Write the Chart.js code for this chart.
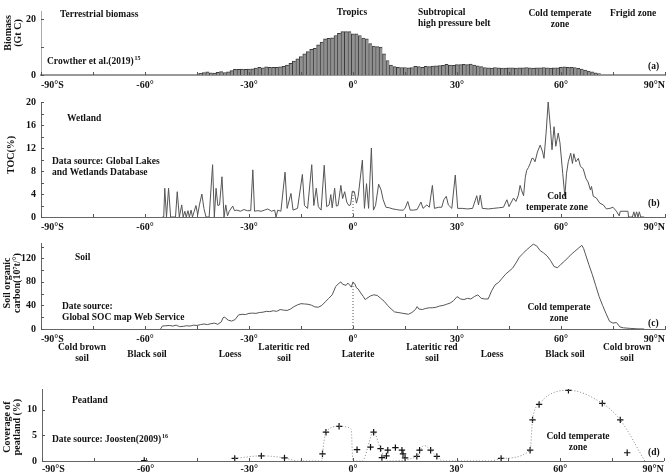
<!DOCTYPE html>
<html><head><meta charset="utf-8">
<script src="https://cdn.jsdelivr.net/npm/chart.js@4.4.1/dist/chart.umd.min.js"></script>
<style>
html,body{margin:0;padding:0;background:#fff;}
body{width:669px;height:472px;overflow:hidden;position:relative;}
canvas{position:absolute;left:0;}
</style></head>
<body>
<canvas id="ca" width="669" height="95" style="top:0px"></canvas>
<canvas id="cb" width="669" height="147" style="top:90px"></canvas>
<canvas id="cc" width="669" height="137" style="top:232px"></canvas>
<canvas id="cd" width="669" height="112" style="top:369px"></canvas>
<script>
// ---------- tick labels ----------
const LAT_TICKS = [-90,-75,-60,-45,-30,-15,0,15,30,45,60,75,90];
const LAT_LABELS = {'-90':'-90°S','-60':'-60°','-30':'-30°','0':'0°','30':'30°','60':'60°','90':'90°N'};

// ---------- (a) terrestrial biomass ----------
const biomassLat = [-44,-43,-42,-41,-40,-39,-38,-37,-36,-35,-34,-33,-32,-31,-30,-29,-28,-27,-26,-25,
-24,-23,-22,-21,-20,-19,-18,-17,-16,-15,-14,-13,-12,-11,-10,-9,-8,-7,-6,-5,
-4,-3,-2,-1,0,1,2,3,4,5,6,7,8,9,10,11,12,13,14,15,
16,17,18,19,20,21,22,23,24,25,26,27,28,29,30,31,32,33,34,35,
36,37,38,39,40,41,42,43,44,45,46,47,48,49,50,51,52,53,54,55,
56,57,58,59,60,61,62,63,64,65,66,67,68,69,70,71];
const biomassVal = [0.6,0.9,1.1,0.8,0.7,1.0,1.2,0.9,1.1,1.6,
2.0,2.0,2.1,2.0,2.1,2.2,2.5,2.8,2.6,2.9,
2.8,2.8,2.8,2.9,3.1,3.6,4.2,5.0,5.8,6.6,
7.6,8.4,9.2,9.6,10.8,11.8,13.0,13.2,13.4,14.2,
15.0,15.6,15.6,15.6,14.8,14.8,14.2,13.3,13.0,11.3,
10.4,10.2,10.0,7.6,5.2,3.6,3.0,2.8,2.7,2.7,
2.6,2.7,3.1,3.0,2.8,3.1,3.0,3.2,3.3,3.4,
3.5,3.8,3.6,3.5,3.7,3.7,3.8,3.7,3.9,3.6,
3.3,3.0,2.7,2.6,2.5,2.7,2.6,2.5,2.5,2.6,
2.6,2.5,2.6,2.6,2.7,2.6,2.5,2.6,2.6,2.7,
2.6,2.5,2.6,2.6,2.8,2.9,2.8,2.8,2.7,2.4,
2.1,1.8,1.4,1.1,0.8,0.5];

// ---------- (b) wetland TOC ----------
const wetLat = [-55.0,-54.6,-54.3,-53.8,-53.2,-52.6,-51.2,-50.7,-50.1,-49.4,-49.0,-48.5,-48.1,-47.6,-47.2,-46.7,-46.3,-45.8,-45.3,-44.8,
-44.3,-43.6,-43.0,-42.4,-41.5,-40.5,-40.0,-39.5,-39.0,-38.5,-37.8,-37.2,-36.7,-36.2,-35.7,-34.7,-34.2,-33.5,-32.5,-31.5,
-30.5,-29.5,-28.9,-28.4,-27.5,-26.5,-25.5,-24.6,-23.5,-22.6,-22.2,-21.7,-20.8,-19.6,-19.0,-17.9,-17.3,-16.0,-14.6,-14.0,
-13.1,-11.9,-11.3,-10.6,-10.0,-9.2,-8.3,-7.6,-6.9,-6.4,-6.0,-5.3,-4.8,-4.3,-3.5,-3.0,-2.4,-1.8,-1.2,-0.7,
-0.2,0.4,1.0,1.5,2.7,3.3,3.9,4.5,5.3,5.9,6.5,7.4,8.1,8.7,9.5,10.5,11.5,12.5,13.5,14.5,
15.0,15.8,16.5,17.5,18.5,19.6,20.2,21.3,22.0,22.9,23.5,24.7,25.6,26.2,26.9,27.5,28.5,29.5,30.2,31.5,
33.0,34.5,35.7,36.2,36.7,37.3,39.0,40.5,42.0,43.4,44.4,45.0,46.3,47.0,47.7,48.2,48.6,49.2,49.7,50.1,
50.6,51.1,51.6,52.0,52.5,53.2,54.0,54.7,55.1,55.7,56.3,57.0,57.4,58.0,58.5,59.2,59.7,60.5,61.1,61.6,
62.1,62.8,63.3,63.7,64.3,65.0,65.6,66.4,67.2,67.8,68.5,68.8,69.3,70.2,71.2,72.2,73.1,74.1,75.0,76.0,
76.8,77.1,79.3,79.5,80.6,81.0,81.4,81.8,82.2,82.6,83.0,84.0];
const wetToc = [0,0,5.0,0,5.0,0,0,4.4,0,2.1,0,1.0,0,1.1,0,1.2,0,1.0,2.0,0.4,
2.1,4.0,1.5,0,0,9.1,0,5.0,2.0,2.1,7.0,0,2.1,0.2,1.0,1.9,1.1,1.2,1.0,1.3,
1.1,1.1,8.2,1.0,1.1,1.0,1.2,1.4,1.0,1.2,0,1.2,1.0,7.8,1.5,4.1,1.2,1.5,7.4,2.0,
1.5,9.1,2.0,5.0,1.8,1.2,9.0,1.8,2.1,3.9,1.6,5.0,1.9,2.0,5.5,3.2,4.4,2.6,2.0,2.1,
4.5,4.4,2.4,3.6,9.9,1.5,5.8,1.5,12.0,1.2,2.0,5.7,4.7,3.0,1.7,1.6,1.4,1.3,1.2,1.2,
1.5,2.7,1.2,1.2,1.3,2.6,1.5,2.1,1.7,5.5,1.5,1.7,1.7,3.0,3.6,2.1,1.5,7.3,1.5,1.5,
1.4,1.5,3.7,2.1,3.8,1.5,1.4,1.5,1.6,1.7,3.0,1.8,3.3,2.7,3.8,5.5,4.7,3.7,6.9,8.1,
8.6,9.3,10.2,10.2,9.6,11.3,12.5,11.3,10.2,14.6,20.0,15.2,11.7,15.7,12.3,14.6,12.9,7.6,3.6,7.6,
9.6,11.1,9.3,11.0,9.6,10.2,8.8,8.4,6.7,6.1,4.7,5.3,3.6,3.3,2.4,2.1,1.4,1.5,1.7,1.0,
0.2,1.0,1.0,0,0,0.9,0,0.9,0,0.9,0,0];

// ---------- (c) soil organic carbon ----------
const socLat = [-55.5,-55,-54,-53,-52,-51,-50,-49,-48,-47,-46,-45,-44,-43,-42,-41,-40,-39,-38,-37.5,
-37,-36,-35,-34,-33,-32,-31,-30,-29,-28,-27,-26,-25,-24,-23,-22,-21,-20,-19,-18,
-17,-16,-15,-14,-13,-12,-11,-10,-9,-8,-7,-6,-5,-4,-3.5,-3,-2,-1.5,-1,-0.5,
0,0.5,1,1.5,2,3,3.5,4,5,6,7,8,9,10,11,12,13,14,15,16,
17,18,18.5,19,20,21,22,23,24,25,26,27,28,29,30,31,32,33,34,35,
36,37,38,39,40,41,42,43,44,45,46,47,48,49,50,51,52,53,54,55,
56,57,58,59,60,61,62,63,64,65,66,66.5,67,68,69,70,71,72,73,74,
75,76,77,78,79,80,82,84];
const socVal = [0,5,5.5,6,5,6.5,4,4.5,5.5,5,6.5,6,7.5,8.5,7.5,9,10,8,12,19,
20,15,13.5,16,24,25,24.5,26.5,27,26.5,28,28.5,30,29.5,31,30,33,32,31.5,34,
38,41,43,42.5,42,40.5,37.5,37,40,46,52,58,72,78,80,76,74,78,75,71,
80,77,70,68,63,55,50,52,56,58,57,52,47,40,34,29,28,27,26,25,
28,33,38,34,33,35,36,36,37,39,40,42,44,48,55,51,50,52,51,55,
58,52,51,51,65,75,79,86,93,98,103,112,122,128,134,139,144,141,133,129,
124,116,106,104,110,115,121,127,132,137,142,137,128,110,93,74,55,40,26,13,
10,11,3.5,2,1.5,1,0.3,0];

// ---------- (d) peatland coverage ----------
const peatLat = [-60.4,-34.2,-26.5,-19.8,-8.8,-7.8,-4.0,1.2,5.1,6.0,8.0,8.4,9.7,10.1,12.3,14.2,14.5,15.1,18.5,19.3,
22.5,24.3,42.9,51.3,52.0,53.9,62.4,72.2,77.4,79.4];
const peatCov = [0.1,0.5,1.0,0.6,1.4,5.6,6.75,2.2,2.7,5.6,2.4,0.65,1.0,2.1,2.6,2.1,1.4,0.6,0.9,2.1,
2.1,0.9,0.5,2.1,8.0,11.0,13.75,11.2,8.0,1.6];
const peatCurveLat = [-34.2,-26.5,-19.8,-16,-9,-8.8,-7.8,-4,-0.5,0,2.7,6,8,10,18.5,20.5,24.3,26,40,42.9,51.3,52,53.9,62.4,72.2,77.4,84.5];
const peatCurveCov = [0.5,1.0,0.6,0,0,1.4,5.6,6.75,6.2,0,0,5.6,2.4,0,0.9,3.0,0.9,0,0,0.5,2.1,8,11,13.75,11.2,8,0];

// ---------- styling helpers ----------
const SERIF = '"Liberation Serif","Times New Roman",serif';
const TF = {family: SERIF, size: 10, weight: 'bold'};
const pairs = (xs, ys) => xs.map((x, i) => ({x, y: ys[i]}));

function xAxis(h, pad, bcol, bw) {
  return {
    type: 'linear', min: -90, max: 90, offset: false,
    afterBuildTicks: s => { s.ticks = LAT_TICKS.map(v => ({value: v})); },
    ticks: {autoSkip: false, maxRotation: 0, minRotation: 0, align: 'inner', padding: pad, font: TF, color: '#111',
      callback: v => (LAT_LABELS[v] !== undefined ? LAT_LABELS[v] : '')},
    grid: {display: false, offset: false, drawTicks: false},
    border: {display: true, color: bcol || '#666', width: bw || 1},
    afterFit: s => { s.height = h; }
  };
}
function yAxis(min, max, ticks, w, bcol) {
  return {
    min, max,
    afterBuildTicks: s => { s.ticks = ticks.map(v => ({value: v})); },
    ticks: {font: TF, color: '#111', padding: 5},
    grid: {display: false, drawTicks: false},
    border: {display: true, color: bcol || '#666', width: 1},
    afterFit: s => { s.width = w; }
  };
}

const annot = {
  id: 'annot',
  afterDraw(chart, args, o) {
    const ctx = chart.ctx, xs = chart.scales.x, ys = chart.scales.y, ca = chart.chartArea;
    ctx.save();
    // inward tick marks
    ctx.strokeStyle = '#555'; ctx.lineWidth = 1; ctx.beginPath();
    LAT_TICKS.forEach(v => { const p = Math.round(xs.getPixelForValue(v)) + 0.5; ctx.moveTo(p, ca.bottom); ctx.lineTo(p, ca.bottom - 3); });
    (o.yMarks || []).forEach(v => { const p = Math.round(ys.getPixelForValue(v)) + 0.5; ctx.moveTo(ca.left, p); ctx.lineTo(ca.left + 3, p); });
    ctx.stroke();
    ctx.fillStyle = '#111'; ctx.textBaseline = 'middle';
    (o.texts || []).forEach(a => {
      const fs = a.size || 9.5;
      ctx.font = 'bold ' + fs + 'px ' + SERIF;
      ctx.textAlign = a.align || 'left';
      a.lines.forEach((l, i) => {
        const y = a.y - o.top + i * (fs + 1.5);
        ctx.fillText(l, a.x, y);
        if (a.sup && i === a.lines.length - 1) {
          const w = ctx.measureText(l).width;
          const sx = (a.align === 'center') ? a.x + w / 2 : a.x + w;
          ctx.save(); ctx.font = 'bold 6px ' + SERIF; ctx.textAlign = 'left';
          ctx.fillText(a.sup, sx + 1, y - 4); ctx.restore();
        }
      });
    });
    (o.titles || []).forEach(t => {
      ctx.save();
      ctx.translate(t.x, t.y - o.top); ctx.rotate(-Math.PI / 2);
      ctx.font = 'bold ' + (t.size || 10) + 'px ' + SERIF; ctx.textAlign = 'center';
      ctx.fillText(t.text, 0, 0);
      ctx.restore();
    });
    ctx.restore();
  }
};

const base = (padTop, plug) => ({
  responsive: false, animation: false, devicePixelRatio: 1,
  layout: {padding: {top: padTop, right: 2, left: 0, bottom: 0}},
  plugins: {legend: {display: false}, tooltip: {enabled: false}, annot: plug}
});

// ---------- (a) ----------
new Chart(document.getElementById('ca'), {
  type: 'bar',
  data: {datasets: [{data: pairs(biomassLat, biomassVal), backgroundColor: '#909090', borderColor: '#3c3c3c',
    borderWidth: {left: 1, right: 0, top: 1, bottom: 0}, barPercentage: 1, categoryPercentage: 1}]},
  options: Object.assign(base(1, {
    top: 0, yMarks: [0, 10, 20],
    texts: [
      {x: 60, y: 15, lines: ['Terrestrial biomass']},
      {x: 47, y: 62, lines: ['Crowther et al.(2019)'], sup: '15'},
      {x: 352, y: 13, lines: ['Tropics'], align: 'center'},
      {x: 418, y: 13, lines: ['Subtropical', 'high pressure belt']},
      {x: 560, y: 14, lines: ['Cold temperate', 'zone'], align: 'center'},
      {x: 610, y: 14, lines: ['Frigid zone']},
      {x: 648, y: 67, lines: ['(a)']}
    ],
    titles: [{text: 'Biomass', x: 8, y: 33}, {text: '(Gt C)', x: 18, y: 33}]
  }), {scales: {x: xAxis(20, 4, '#999', 2), y: yAxis(0, 23, [0, 20], 41, '#aaa')}})
  , plugins: [annot]
});

// ---------- (b) ----------
new Chart(document.getElementById('cb'), {
  type: 'line',
  data: {datasets: [
    {data: pairs(wetLat, wetToc), borderColor: '#555', borderWidth: 1, pointRadius: 0, tension: 0, fill: false},
    {data: [{x: 0, y: 0}, {x: 0, y: 4.5}], borderColor: '#555', borderWidth: 1, borderDash: [1, 2], pointRadius: 0}
  ]},
  options: Object.assign(base(12, {
    top: 90, yMarks: [0, 2, 4, 6, 8, 10, 12, 14, 16, 18, 20],
    texts: [
      {x: 67, y: 119, lines: ['Wetland']},
      {x: 52, y: 162, lines: ['Data source: Global Lakes', 'and Wetlands Database']},
      {x: 557, y: 197, lines: ['Cold', 'temperate zone'], align: 'center'},
      {x: 648, y: 204, lines: ['(b)']}
    ],
    titles: [{text: 'TOC(%)', x: 11, y: 155, size: 10}]
  }), {scales: {x: xAxis(20, 4), y: yAxis(0, 20, [0, 4, 8, 12, 16, 20], 41)}})
  , plugins: [annot]
});

// ---------- (c) ----------
new Chart(document.getElementById('cc'), {
  type: 'line',
  data: {datasets: [
    {data: pairs(socLat, socVal), borderColor: '#555', borderWidth: 1, pointRadius: 0, tension: 0, fill: false},
    {data: [{x: 0, y: 0}, {x: 0, y: 80}], borderColor: '#555', borderWidth: 1, borderDash: [1, 2], pointRadius: 0}
  ]},
  options: Object.assign(base(11, {
    top: 232, yMarks: [0, 20, 40, 60, 80, 100, 120, 140],
    texts: [
      {x: 75, y: 258, lines: ['Soil']},
      {x: 62, y: 307, lines: ['Date source:', 'Global SOC map Web Service']},
      {x: 559, y: 308, lines: ['Cold temperate', 'zone'], align: 'center'},
      {x: 648, y: 324, lines: ['(c)']},
      {x: 82, y: 348, lines: ['Cold brown', 'soil'], align: 'center'},
      {x: 147, y: 355, lines: ['Black soil'], align: 'center'},
      {x: 230, y: 355, lines: ['Loess'], align: 'center'},
      {x: 284, y: 348, lines: ['Lateritic red', 'soil'], align: 'center'},
      {x: 358, y: 355, lines: ['Laterite'], align: 'center'},
      {x: 432, y: 348, lines: ['Lateritic red', 'soil'], align: 'center'},
      {x: 492, y: 355, lines: ['Loess'], align: 'center'},
      {x: 565, y: 355, lines: ['Black soil'], align: 'center'},
      {x: 627, y: 348, lines: ['Cold brown', 'soil'], align: 'center'}
    ],
    titles: [{text: 'Soil organic', x: 7, y: 283}, {text: 'carbon(10\u2077t/°)', x: 17, y: 283}]
  }), {scales: {x: xAxis(40, 4), y: yAxis(0, 146, [0, 40, 80, 120], 41)}})
  , plugins: [annot]
});

// ---------- (d) ----------
new Chart(document.getElementById('cd'), {
  type: 'line',
  data: {datasets: [
    {data: pairs(peatCurveLat, peatCurveCov), borderColor: '#888', borderWidth: 1, borderDash: [1, 2], pointRadius: 0,
      cubicInterpolationMode: 'monotone', fill: false},
    {data: pairs(peatLat, peatCov), showLine: false, pointStyle: 'cross', pointRadius: 3.2, borderColor: '#111',
      backgroundColor: '#111', pointBorderWidth: 1.2}
  ]},
  options: Object.assign(base(20, {
    top: 369, yMarks: [0, 5, 10],
    texts: [
      {x: 72, y: 401, lines: ['Peatland']},
      {x: 52, y: 440, lines: ['Date source: Joosten(2009)'], sup: '16'},
      {x: 578, y: 437, lines: ['Cold temperate', 'zone'], align: 'center'},
      {x: 648, y: 453, lines: ['(d)']}
    ],
    titles: [{text: 'Coverage of', x: 7, y: 427}, {text: 'peatland (%)', x: 17, y: 427}]
  }), {scales: {x: xAxis(20, 2), y: yAxis(0, 14, [0, 5, 10], 42)}})
  , plugins: [annot]
});
</script>
</body></html>
